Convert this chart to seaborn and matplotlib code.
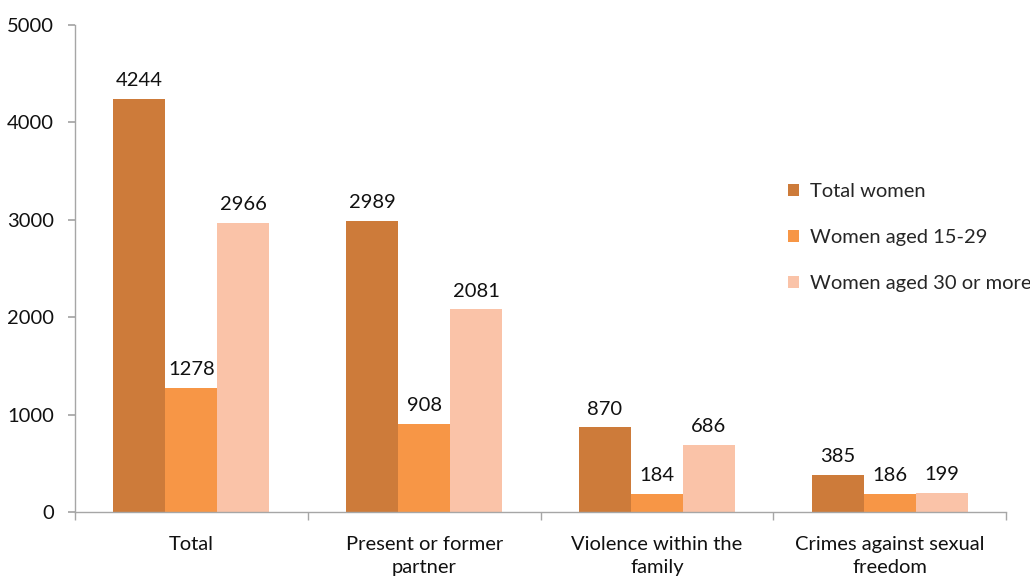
import matplotlib
matplotlib.use("Agg")
import matplotlib.pyplot as plt
import seaborn as sns
import pandas as pd
from matplotlib.patches import Patch
from matplotlib.ticker import FixedLocator

categories = ["Total", "Present or former\npartner", "Violence within the\nfamily", "Crimes against sexual\nfreedom"]
series_names = ["Total women", "Women aged 15-29", "Women aged 30 or more"]
total_women = [4244, 2989, 870, 385]
women_15_29 = [1278, 908, 184, 186]
women_30_plus = [2966, 2081, 686, 199]
colors = ["#CD7B3A", "#F79646", "#FAC3A8"]
y_ticks = [0, 1000, 2000, 3000, 4000, 5000]

rows = []
for name, vals in zip(series_names, [total_women, women_15_29, women_30_plus]):
    for c, v in zip(categories, vals):
        rows.append({"category": c, "series": name, "value": v})
df = pd.DataFrame(rows)

sns.set_theme(style="white")
plt.rcParams["font.family"] = ["Lato", "DejaVu Sans"]

FS = 14.5
fig = plt.figure(figsize=(10.30, 5.76), dpi=100)
ax = fig.add_axes([75/1030, 64/576, 931/1030, 487/576])

sns.barplot(data=df, x="category", y="value", hue="series", order=categories,
            hue_order=series_names, palette=colors, width=0.67, saturation=1,
            ax=ax, legend=False, errorbar=None, linewidth=0)

for cont in ax.containers:
    ax.bar_label(cont, fmt="%d", padding=7, fontsize=FS, color="#111111")

ax.set_xlim(-0.5, 3.5)
ax.set_ylim(0, 5000)
ax.set_yticks(y_ticks)
ax.set_xlabel("")
ax.set_ylabel("")
for s in ["top", "right"]:
    ax.spines[s].set_visible(False)
for s in ["left", "bottom"]:
    ax.spines[s].set_color("#A6A6A6")
    ax.spines[s].set_linewidth(1)

ax.tick_params(axis="y", which="major", length=5, color="#A6A6A6", labelsize=FS, labelcolor="#111111", left=True, pad=10)
ax.tick_params(axis="x", which="major", length=0, labelsize=FS, labelcolor="#111111", pad=17)
ax.xaxis.set_minor_locator(FixedLocator([-0.5, 0.5, 1.5, 2.5, 3.5]))
ax.tick_params(axis="x", which="minor", length=6, color="#A6A6A6", bottom=True)
ax.set_xticklabels(categories, linespacing=1.45)

handles = [Patch(facecolor=c, edgecolor="none") for c in colors]
fig.legend(handles, series_names, loc="upper left", bbox_to_anchor=(788/1030, 1 - 183/576),
           frameon=False, fontsize=FS, handlelength=0.55, handleheight=0.55,
           handletextpad=0.55, labelspacing=1.45, borderaxespad=0, borderpad=0)

fig.savefig("out.png", dpi=100)
